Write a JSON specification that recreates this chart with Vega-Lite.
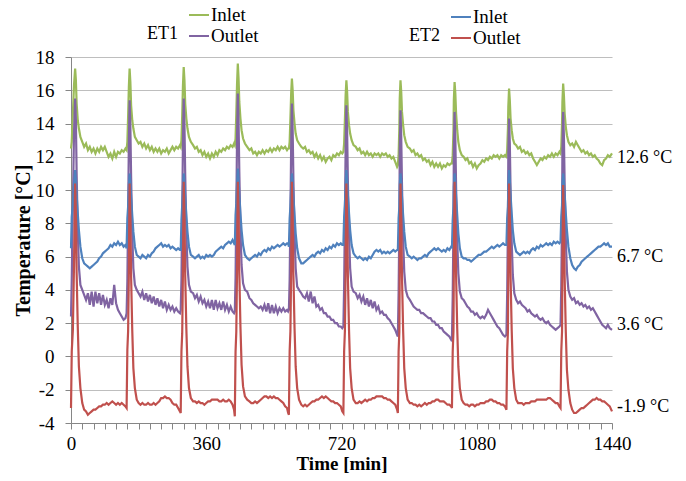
{
"$schema": "https://vega.github.io/schema/vega-lite/v6.json",
"width": 541, "height": 366,
"autosize": "none",
"padding": {"left": 71, "top": 57, "right": 74, "bottom": 58},
"background": "white",
"config": {"view": {"stroke": null}, "font": "Liberation Serif",
 "axis": {"labelFont": "Liberation Serif", "titleFont": "Liberation Serif"},
 "legend": {"labelFont": "Liberation Serif", "titleFont": "Liberation Serif"},
 "text": {"font": "Liberation Serif"}},
"datasets": {
"temps": [
{"t":0,"g":12.5,"p":2.4,"b":6.5,"r":-3.1},{"t":2,"g":12.9,"p":4.6,"b":8.4,"r":0.3},{"t":5,"g":14.6,"p":9.2,"b":9.1,"r":1.6},{"t":8,"g":16.3,"p":13.4,"b":10.4,"r":5.5},{"t":11,"g":17.3,"p":15.5,"b":11.2,"r":10.4},{"t":13,"g":16.6,"p":14.2,"b":10.6,"r":8.6},{"t":15,"g":15.2,"p":11.0,"b":9.7,"r":5.0},{"t":18,"g":14.2,"p":7.6,"b":8.6,"r":1.8},{"t":21,"g":13.7,"p":5.4,"b":7.6,"r":-0.6},{"t":25,"g":13.2,"p":4.3,"b":6.6,"r":-1.9},{"t":30,"g":12.9,"p":4.0,"b":5.9,"r":-2.8},{"t":35,"g":12.6,"p":3.7,"b":5.6,"r":-3.2},{"t":40,"g":12.8,"p":3.4,"b":5.5,"r":-3.3},{"t":45,"g":12.4,"p":3.8,"b":5.4,"r":-3.5},{"t":50,"g":12.6,"p":3.1,"b":5.3,"r":-3.4},{"t":55,"g":12.3,"p":3.9,"b":5.4,"r":-3.3},{"t":60,"g":12.5,"p":3.0,"b":5.5,"r":-3.2},{"t":65,"g":12.2,"p":3.9,"b":5.6,"r":-3.2},{"t":70,"g":12.5,"p":3.2,"b":5.7,"r":-3.1},{"t":75,"g":12.3,"p":3.8,"b":5.9,"r":-3.0},{"t":80,"g":12.6,"p":3.1,"b":6.0,"r":-3.0},{"t":85,"g":12.4,"p":3.7,"b":6.2,"r":-2.9},{"t":90,"g":12.6,"p":3.1,"b":6.3,"r":-2.9},{"t":95,"g":12.3,"p":3.4,"b":6.4,"r":-2.8},{"t":100,"g":12.0,"p":2.9,"b":6.5,"r":-2.9},{"t":105,"g":12.2,"p":3.5,"b":6.7,"r":-2.8},{"t":110,"g":11.9,"p":3.1,"b":6.6,"r":-2.7},{"t":115,"g":12.3,"p":4.3,"b":6.8,"r":-2.8},{"t":120,"g":12.0,"p":3.2,"b":6.7,"r":-2.9},{"t":125,"g":12.3,"p":2.8,"b":6.9,"r":-2.8},{"t":130,"g":12.2,"p":2.6,"b":6.7,"r":-2.9},{"t":135,"g":12.4,"p":2.4,"b":6.8,"r":-2.8},{"t":140,"g":12.3,"p":2.2,"b":6.6,"r":-2.9},{"t":145,"g":12.5,"p":2.3,"b":6.7,"r":-3.0},
{"t":148,"g":12.4,"p":2.6,"b":6.5,"r":-3.1},{"t":150,"g":12.9,"p":4.5,"b":8.3,"r":0.4},{"t":152,"g":14.4,"p":8.5,"b":9.0,"r":1.5},{"t":154,"g":16.2,"p":12.8,"b":10.3,"r":5.0},{"t":156,"g":17.3,"p":15.4,"b":11.0,"r":10.4},{"t":158,"g":16.5,"p":13.8,"b":10.5,"r":8.4},{"t":160,"g":15.1,"p":10.8,"b":9.6,"r":4.8},{"t":163,"g":14.2,"p":7.4,"b":8.5,"r":1.6},{"t":166,"g":13.7,"p":5.3,"b":7.5,"r":-0.7},{"t":170,"g":13.2,"p":4.3,"b":6.6,"r":-1.9},{"t":175,"g":13.0,"p":4.0,"b":6.1,"r":-2.6},{"t":180,"g":12.8,"p":3.8,"b":6.0,"r":-2.8},{"t":185,"g":12.9,"p":3.6,"b":5.9,"r":-2.9},{"t":190,"g":12.6,"p":3.9,"b":6.1,"r":-2.8},{"t":195,"g":12.8,"p":3.4,"b":6.0,"r":-2.9},{"t":200,"g":12.5,"p":3.8,"b":5.9,"r":-2.9},{"t":205,"g":12.7,"p":3.3,"b":6.1,"r":-2.8},{"t":210,"g":12.4,"p":3.7,"b":6.0,"r":-2.9},{"t":215,"g":12.6,"p":3.2,"b":6.2,"r":-2.9},{"t":220,"g":12.3,"p":3.6,"b":6.3,"r":-2.8},{"t":225,"g":12.5,"p":3.1,"b":6.5,"r":-2.9},{"t":230,"g":12.3,"p":3.5,"b":6.6,"r":-2.8},{"t":235,"g":12.5,"p":3.0,"b":6.7,"r":-2.7},{"t":240,"g":12.2,"p":3.4,"b":6.8,"r":-2.5},{"t":245,"g":12.4,"p":2.9,"b":6.6,"r":-2.5},{"t":250,"g":12.3,"p":3.3,"b":6.7,"r":-2.4},{"t":255,"g":12.5,"p":2.8,"b":6.6,"r":-2.5},{"t":260,"g":12.2,"p":3.1,"b":6.7,"r":-2.5},{"t":265,"g":12.4,"p":2.8,"b":6.5,"r":-2.6},{"t":270,"g":12.6,"p":3.0,"b":6.6,"r":-2.8},{"t":275,"g":12.4,"p":2.7,"b":6.5,"r":-2.9},{"t":280,"g":12.6,"p":2.9,"b":6.4,"r":-2.9},{"t":285,"g":12.5,"p":2.7,"b":6.5,"r":-3.1},{"t":290,"g":12.7,"p":2.6,"b":6.4,"r":-3.3},
{"t":292,"g":12.6,"p":2.8,"b":6.4,"r":-3.4},{"t":294,"g":13.0,"p":4.6,"b":8.2,"r":0.3},{"t":296,"g":14.5,"p":8.6,"b":9.1,"r":1.4},{"t":298,"g":16.3,"p":12.9,"b":10.2,"r":5.2},{"t":300,"g":17.4,"p":15.5,"b":11.0,"r":10.5},{"t":302,"g":16.6,"p":13.9,"b":10.5,"r":8.5},{"t":304,"g":15.2,"p":10.9,"b":9.6,"r":4.9},{"t":307,"g":14.3,"p":7.5,"b":8.5,"r":1.7},{"t":310,"g":13.7,"p":5.4,"b":7.5,"r":-0.6},{"t":314,"g":13.2,"p":4.3,"b":6.6,"r":-1.9},{"t":319,"g":12.9,"p":3.9,"b":6.1,"r":-2.5},{"t":325,"g":12.7,"p":3.8,"b":6.0,"r":-2.7},{"t":330,"g":12.5,"p":3.5,"b":5.9,"r":-2.7},{"t":335,"g":12.6,"p":3.7,"b":6.0,"r":-2.8},{"t":340,"g":12.3,"p":3.3,"b":6.1,"r":-2.7},{"t":345,"g":12.4,"p":3.6,"b":5.9,"r":-2.8},{"t":350,"g":12.1,"p":3.2,"b":6.0,"r":-2.8},{"t":355,"g":12.3,"p":3.4,"b":5.9,"r":-2.9},{"t":360,"g":12.0,"p":3.0,"b":6.1,"r":-2.8},{"t":365,"g":12.2,"p":3.3,"b":6.0,"r":-2.7},{"t":370,"g":11.9,"p":2.9,"b":6.1,"r":-2.7},{"t":375,"g":12.2,"p":3.4,"b":6.0,"r":-2.6},{"t":380,"g":12.0,"p":2.8,"b":6.1,"r":-2.6},{"t":385,"g":12.3,"p":3.4,"b":6.3,"r":-2.6},{"t":390,"g":12.1,"p":2.9,"b":6.4,"r":-2.6},{"t":395,"g":12.4,"p":3.2,"b":6.5,"r":-2.7},{"t":400,"g":12.3,"p":2.8,"b":6.6,"r":-2.7},{"t":405,"g":12.5,"p":3.3,"b":6.5,"r":-2.6},{"t":410,"g":12.4,"p":2.8,"b":6.7,"r":-2.7},{"t":415,"g":12.6,"p":3.1,"b":6.8,"r":-2.7},{"t":420,"g":12.5,"p":2.7,"b":6.9,"r":-2.6},{"t":425,"g":12.7,"p":3.0,"b":6.8,"r":-2.7},{"t":430,"g":12.6,"p":2.7,"b":7.0,"r":-2.9},{"t":434,"g":12.8,"p":2.6,"b":6.8,"r":-3.2},
{"t":436,"g":12.7,"p":2.7,"b":6.7,"r":-3.6},{"t":438,"g":13.1,"p":4.7,"b":8.5,"r":0.3},{"t":440,"g":14.6,"p":8.8,"b":9.2,"r":1.5},{"t":442,"g":16.4,"p":13.2,"b":10.4,"r":5.3},{"t":444,"g":17.6,"p":15.8,"b":11.3,"r":10.5},{"t":446,"g":16.7,"p":14.1,"b":10.7,"r":8.6},{"t":448,"g":15.3,"p":11.1,"b":9.7,"r":5.0},{"t":451,"g":14.3,"p":7.6,"b":8.6,"r":1.8},{"t":454,"g":13.6,"p":5.5,"b":7.6,"r":-0.5},{"t":458,"g":13.1,"p":4.4,"b":6.7,"r":-1.8},{"t":463,"g":12.8,"p":4.0,"b":6.1,"r":-2.4},{"t":469,"g":12.6,"p":3.9,"b":5.9,"r":-2.6},{"t":475,"g":12.4,"p":3.5,"b":5.8,"r":-2.7},{"t":480,"g":12.5,"p":3.4,"b":5.9,"r":-2.8},{"t":485,"g":12.2,"p":3.2,"b":6.0,"r":-2.8},{"t":490,"g":12.3,"p":3.1,"b":6.1,"r":-2.7},{"t":495,"g":12.1,"p":3.0,"b":6.0,"r":-2.8},{"t":500,"g":12.3,"p":2.9,"b":6.2,"r":-2.7},{"t":505,"g":12.2,"p":3.0,"b":6.1,"r":-2.6},{"t":510,"g":12.4,"p":2.8,"b":6.3,"r":-2.5},{"t":515,"g":12.2,"p":3.1,"b":6.4,"r":-2.4},{"t":520,"g":12.4,"p":2.7,"b":6.3,"r":-2.4},{"t":525,"g":12.3,"p":3.2,"b":6.5,"r":-2.5},{"t":530,"g":12.5,"p":2.6,"b":6.4,"r":-2.4},{"t":535,"g":12.3,"p":3.1,"b":6.6,"r":-2.5},{"t":540,"g":12.5,"p":2.6,"b":6.5,"r":-2.4},{"t":545,"g":12.4,"p":3.0,"b":6.6,"r":-2.5},{"t":550,"g":12.6,"p":2.6,"b":6.7,"r":-2.5},{"t":555,"g":12.4,"p":2.9,"b":6.6,"r":-2.6},{"t":560,"g":12.6,"p":2.7,"b":6.7,"r":-2.7},{"t":565,"g":12.5,"p":2.9,"b":6.8,"r":-2.8},{"t":570,"g":12.6,"p":2.7,"b":6.7,"r":-3.0},{"t":575,"g":12.4,"p":2.8,"b":6.8,"r":-3.1},{"t":578,"g":12.5,"p":2.7,"b":6.8,"r":-3.4},
{"t":580,"g":12.5,"p":2.8,"b":6.6,"r":-3.5},{"t":582,"g":12.9,"p":4.6,"b":8.3,"r":0.3},{"t":584,"g":14.3,"p":8.4,"b":9.0,"r":1.5},{"t":586,"g":15.8,"p":12.6,"b":10.2,"r":5.2},{"t":588,"g":16.7,"p":15.2,"b":11.0,"r":10.5},{"t":590,"g":16.0,"p":13.6,"b":10.5,"r":8.5},{"t":592,"g":14.8,"p":10.6,"b":9.6,"r":4.9},{"t":595,"g":14.0,"p":7.4,"b":8.5,"r":1.7},{"t":598,"g":13.4,"p":5.3,"b":7.4,"r":-0.6},{"t":602,"g":13.0,"p":4.2,"b":6.5,"r":-1.9},{"t":607,"g":12.8,"p":4.0,"b":5.9,"r":-2.6},{"t":613,"g":12.6,"p":3.8,"b":5.6,"r":-2.9},{"t":618,"g":12.5,"p":3.6,"b":5.6,"r":-3.0},{"t":623,"g":12.6,"p":3.5,"b":5.7,"r":-2.9},{"t":628,"g":12.3,"p":3.8,"b":5.8,"r":-3.0},{"t":633,"g":12.4,"p":3.3,"b":5.9,"r":-2.9},{"t":638,"g":12.2,"p":3.9,"b":6.0,"r":-2.8},{"t":643,"g":12.3,"p":3.2,"b":6.1,"r":-2.7},{"t":648,"g":12.0,"p":3.6,"b":6.0,"r":-2.7},{"t":653,"g":12.2,"p":3.0,"b":6.2,"r":-2.6},{"t":658,"g":11.9,"p":3.1,"b":6.3,"r":-2.6},{"t":663,"g":12.1,"p":2.8,"b":6.2,"r":-2.5},{"t":668,"g":11.8,"p":2.9,"b":6.4,"r":-2.4},{"t":673,"g":12.0,"p":2.6,"b":6.3,"r":-2.5},{"t":678,"g":11.7,"p":2.6,"b":6.5,"r":-2.4},{"t":683,"g":11.9,"p":2.4,"b":6.4,"r":-2.5},{"t":688,"g":12.0,"p":2.4,"b":6.6,"r":-2.6},{"t":693,"g":11.8,"p":2.2,"b":6.5,"r":-2.7},{"t":698,"g":12.1,"p":2.2,"b":6.7,"r":-2.7},{"t":703,"g":12.0,"p":2.0,"b":6.6,"r":-2.8},{"t":708,"g":12.2,"p":2.0,"b":6.8,"r":-2.8},{"t":713,"g":12.1,"p":1.8,"b":6.7,"r":-2.9},{"t":718,"g":12.3,"p":1.8,"b":6.8,"r":-3.0},{"t":722,"g":12.2,"p":1.7,"b":6.7,"r":-3.3},
{"t":725,"g":12.3,"p":1.8,"b":6.7,"r":-3.4},{"t":727,"g":12.8,"p":4.2,"b":8.4,"r":0.3},{"t":729,"g":14.2,"p":8.3,"b":9.1,"r":1.5},{"t":731,"g":15.7,"p":12.5,"b":10.3,"r":5.2},{"t":733,"g":16.6,"p":15.1,"b":11.2,"r":10.4},{"t":735,"g":15.9,"p":13.5,"b":10.6,"r":8.4},{"t":737,"g":14.7,"p":10.5,"b":9.7,"r":4.8},{"t":740,"g":13.9,"p":7.3,"b":8.6,"r":1.6},{"t":743,"g":13.4,"p":5.3,"b":7.6,"r":-0.7},{"t":747,"g":13.0,"p":4.2,"b":6.7,"r":-1.9},{"t":752,"g":12.7,"p":3.9,"b":6.2,"r":-2.6},{"t":758,"g":12.6,"p":3.8,"b":6.0,"r":-2.8},{"t":763,"g":12.4,"p":3.5,"b":5.9,"r":-2.8},{"t":768,"g":12.5,"p":3.7,"b":6.0,"r":-2.7},{"t":773,"g":12.2,"p":3.3,"b":5.9,"r":-2.8},{"t":778,"g":12.3,"p":3.6,"b":5.8,"r":-2.7},{"t":783,"g":12.1,"p":3.1,"b":5.9,"r":-2.6},{"t":788,"g":12.3,"p":3.5,"b":5.8,"r":-2.7},{"t":793,"g":12.1,"p":3.0,"b":6.0,"r":-2.6},{"t":798,"g":12.2,"p":3.4,"b":5.9,"r":-2.6},{"t":803,"g":12.0,"p":2.9,"b":6.1,"r":-2.5},{"t":808,"g":12.2,"p":3.3,"b":6.3,"r":-2.5},{"t":813,"g":12.1,"p":2.8,"b":6.4,"r":-2.4},{"t":818,"g":12.2,"p":3.0,"b":6.3,"r":-2.4},{"t":823,"g":12.0,"p":2.6,"b":6.4,"r":-2.4},{"t":828,"g":12.2,"p":2.7,"b":6.2,"r":-2.4},{"t":833,"g":12.1,"p":2.5,"b":6.3,"r":-2.5},{"t":838,"g":12.2,"p":2.5,"b":6.2,"r":-2.5},{"t":843,"g":12.0,"p":2.3,"b":6.3,"r":-2.6},{"t":848,"g":12.1,"p":2.2,"b":6.2,"r":-2.6},{"t":853,"g":11.9,"p":2.0,"b":6.3,"r":-2.7},{"t":858,"g":12.0,"p":1.8,"b":6.4,"r":-2.8},{"t":863,"g":11.7,"p":1.6,"b":6.3,"r":-2.9},{"t":868,"g":11.4,"p":1.3,"b":6.4,"r":-3.2},
{"t":870,"g":11.5,"p":1.2,"b":6.4,"r":-3.4},{"t":872,"g":12.1,"p":3.8,"b":8.3,"r":0.3},{"t":874,"g":13.8,"p":8.0,"b":9.0,"r":1.5},{"t":875,"g":15.5,"p":12.3,"b":10.3,"r":5.2},{"t":877,"g":16.6,"p":14.8,"b":11.0,"r":10.4},{"t":879,"g":15.9,"p":13.2,"b":10.5,"r":8.4},{"t":881,"g":14.7,"p":10.3,"b":9.6,"r":4.8},{"t":884,"g":13.9,"p":7.1,"b":8.5,"r":1.6},{"t":887,"g":13.3,"p":5.1,"b":7.5,"r":-0.7},{"t":891,"g":12.9,"p":4.0,"b":6.6,"r":-1.9},{"t":896,"g":12.6,"p":3.6,"b":6.1,"r":-2.6},{"t":902,"g":12.5,"p":3.4,"b":6.0,"r":-2.8},{"t":907,"g":12.3,"p":3.2,"b":5.9,"r":-2.8},{"t":912,"g":12.4,"p":3.0,"b":6.0,"r":-2.9},{"t":917,"g":12.1,"p":2.9,"b":5.9,"r":-2.9},{"t":922,"g":12.2,"p":2.8,"b":5.8,"r":-3.0},{"t":927,"g":12.0,"p":2.8,"b":5.9,"r":-2.9},{"t":932,"g":12.1,"p":2.6,"b":5.9,"r":-3.0},{"t":937,"g":11.8,"p":2.6,"b":6.0,"r":-2.9},{"t":942,"g":11.9,"p":2.5,"b":6.1,"r":-2.8},{"t":947,"g":11.7,"p":2.4,"b":6.0,"r":-2.9},{"t":952,"g":11.8,"p":2.3,"b":6.2,"r":-2.8},{"t":957,"g":11.5,"p":2.3,"b":6.3,"r":-2.8},{"t":962,"g":11.7,"p":2.1,"b":6.4,"r":-2.7},{"t":967,"g":11.4,"p":2.1,"b":6.5,"r":-2.7},{"t":972,"g":11.6,"p":1.9,"b":6.4,"r":-2.6},{"t":977,"g":11.4,"p":1.9,"b":6.5,"r":-2.6},{"t":982,"g":11.6,"p":1.7,"b":6.4,"r":-2.7},{"t":987,"g":11.3,"p":1.7,"b":6.3,"r":-2.7},{"t":992,"g":11.5,"p":1.5,"b":6.4,"r":-2.7},{"t":997,"g":11.4,"p":1.4,"b":6.3,"r":-2.8},{"t":1002,"g":11.6,"p":1.3,"b":6.5,"r":-2.9},{"t":1007,"g":11.5,"p":1.2,"b":6.4,"r":-2.9},{"t":1012,"g":11.6,"p":1.0,"b":6.6,"r":-3.0},
{"t":1014,"g":11.6,"p":1.1,"b":6.5,"r":-3.1},{"t":1016,"g":12.1,"p":3.6,"b":8.2,"r":0.3},{"t":1018,"g":13.6,"p":7.8,"b":9.0,"r":1.5},{"t":1019,"g":15.4,"p":12.2,"b":10.2,"r":5.2},{"t":1021,"g":16.5,"p":14.7,"b":11.0,"r":10.5},{"t":1023,"g":15.8,"p":13.1,"b":10.5,"r":8.5},{"t":1025,"g":14.6,"p":10.2,"b":9.6,"r":4.9},{"t":1028,"g":13.6,"p":7.0,"b":8.5,"r":1.7},{"t":1031,"g":12.9,"p":5.0,"b":7.4,"r":-0.6},{"t":1035,"g":12.4,"p":3.9,"b":6.5,"r":-1.9},{"t":1040,"g":12.1,"p":3.5,"b":6.0,"r":-2.6},{"t":1045,"g":12.0,"p":3.4,"b":5.9,"r":-2.8},{"t":1050,"g":11.8,"p":3.2,"b":5.9,"r":-2.9},{"t":1055,"g":11.9,"p":3.0,"b":5.8,"r":-2.9},{"t":1060,"g":11.6,"p":2.9,"b":5.8,"r":-3.0},{"t":1065,"g":11.7,"p":2.7,"b":5.7,"r":-2.9},{"t":1070,"g":11.4,"p":2.7,"b":5.8,"r":-2.9},{"t":1075,"g":11.6,"p":2.5,"b":5.9,"r":-3.0},{"t":1080,"g":11.3,"p":2.6,"b":6.0,"r":-2.9},{"t":1085,"g":11.5,"p":2.4,"b":6.1,"r":-2.9},{"t":1090,"g":11.6,"p":2.3,"b":6.1,"r":-2.8},{"t":1095,"g":11.8,"p":2.4,"b":6.2,"r":-2.8},{"t":1100,"g":11.7,"p":2.3,"b":6.3,"r":-2.8},{"t":1105,"g":11.9,"p":2.5,"b":6.3,"r":-2.7},{"t":1110,"g":11.8,"p":2.8,"b":6.4,"r":-2.7},{"t":1115,"g":12.0,"p":2.6,"b":6.5,"r":-2.6},{"t":1120,"g":11.9,"p":2.4,"b":6.6,"r":-2.6},{"t":1125,"g":12.1,"p":2.2,"b":6.5,"r":-2.7},{"t":1130,"g":12.0,"p":2.0,"b":6.6,"r":-2.7},{"t":1135,"g":12.1,"p":1.8,"b":6.7,"r":-2.8},{"t":1140,"g":11.9,"p":1.7,"b":6.6,"r":-2.8},{"t":1145,"g":12.1,"p":1.5,"b":6.7,"r":-2.9},{"t":1150,"g":12.0,"p":1.3,"b":6.8,"r":-2.9},{"t":1155,"g":12.1,"p":1.2,"b":6.7,"r":-3.0},
{"t":1159,"g":12.0,"p":1.3,"b":6.7,"r":-3.2},{"t":1161,"g":12.4,"p":3.8,"b":8.3,"r":0.3},{"t":1163,"g":13.7,"p":7.9,"b":9.0,"r":1.5},{"t":1164,"g":15.0,"p":12.0,"b":10.3,"r":5.2},{"t":1166,"g":16.1,"p":14.3,"b":11.2,"r":10.4},{"t":1168,"g":15.4,"p":12.8,"b":10.6,"r":8.4},{"t":1170,"g":14.3,"p":10.0,"b":9.7,"r":4.8},{"t":1173,"g":13.6,"p":6.9,"b":8.6,"r":1.6},{"t":1176,"g":13.1,"p":4.9,"b":7.6,"r":-0.7},{"t":1180,"g":12.8,"p":3.8,"b":6.8,"r":-1.9},{"t":1185,"g":12.7,"p":3.4,"b":6.3,"r":-2.6},{"t":1190,"g":12.5,"p":3.2,"b":6.2,"r":-2.8},{"t":1195,"g":12.6,"p":3.3,"b":6.1,"r":-2.8},{"t":1200,"g":12.3,"p":3.1,"b":6.2,"r":-2.8},{"t":1205,"g":12.4,"p":3.0,"b":6.3,"r":-2.9},{"t":1210,"g":12.2,"p":2.9,"b":6.2,"r":-2.8},{"t":1215,"g":12.3,"p":2.7,"b":6.3,"r":-2.8},{"t":1220,"g":12.1,"p":2.8,"b":6.2,"r":-2.8},{"t":1225,"g":12.2,"p":2.6,"b":6.4,"r":-2.7},{"t":1230,"g":11.9,"p":2.5,"b":6.5,"r":-2.7},{"t":1235,"g":11.7,"p":2.4,"b":6.4,"r":-2.7},{"t":1240,"g":11.5,"p":2.5,"b":6.6,"r":-2.6},{"t":1245,"g":11.7,"p":2.3,"b":6.5,"r":-2.6},{"t":1250,"g":11.9,"p":2.2,"b":6.7,"r":-2.6},{"t":1255,"g":11.8,"p":2.3,"b":6.6,"r":-2.6},{"t":1260,"g":12.0,"p":2.1,"b":6.7,"r":-2.6},{"t":1265,"g":11.9,"p":2.0,"b":6.8,"r":-2.6},{"t":1270,"g":12.1,"p":2.1,"b":6.7,"r":-2.5},{"t":1275,"g":12.0,"p":1.9,"b":6.8,"r":-2.5},{"t":1280,"g":12.2,"p":1.8,"b":6.7,"r":-2.6},{"t":1285,"g":12.0,"p":1.7,"b":6.9,"r":-2.7},{"t":1290,"g":12.2,"p":1.6,"b":6.8,"r":-2.8},{"t":1295,"g":12.1,"p":1.7,"b":6.9,"r":-2.8},{"t":1300,"g":12.3,"p":1.8,"b":6.8,"r":-3.0},
{"t":1303,"g":12.2,"p":1.9,"b":6.9,"r":-3.1},{"t":1305,"g":12.6,"p":4.2,"b":8.4,"r":0.3},{"t":1307,"g":14.0,"p":8.2,"b":9.1,"r":1.5},{"t":1308,"g":15.3,"p":12.3,"b":10.3,"r":5.2},{"t":1310,"g":16.4,"p":14.7,"b":11.0,"r":10.3},{"t":1312,"g":15.7,"p":13.2,"b":10.5,"r":8.3},{"t":1314,"g":14.6,"p":10.3,"b":9.7,"r":4.7},{"t":1317,"g":13.8,"p":7.1,"b":8.6,"r":1.5},{"t":1320,"g":13.3,"p":5.1,"b":7.6,"r":-0.8},{"t":1324,"g":12.9,"p":4.0,"b":6.6,"r":-2.0},{"t":1329,"g":12.7,"p":3.6,"b":5.9,"r":-2.8},{"t":1334,"g":12.8,"p":3.4,"b":5.5,"r":-3.2},{"t":1339,"g":12.6,"p":3.5,"b":5.3,"r":-3.4},{"t":1344,"g":12.9,"p":3.2,"b":5.2,"r":-3.4},{"t":1349,"g":12.7,"p":3.3,"b":5.4,"r":-3.3},{"t":1354,"g":12.5,"p":3.1,"b":5.5,"r":-3.2},{"t":1359,"g":12.3,"p":3.2,"b":5.7,"r":-3.1},{"t":1364,"g":12.4,"p":3.0,"b":5.8,"r":-3.1},{"t":1369,"g":12.2,"p":3.1,"b":5.9,"r":-3.0},{"t":1374,"g":12.3,"p":2.9,"b":6.0,"r":-2.9},{"t":1379,"g":12.1,"p":3.0,"b":6.1,"r":-2.8},{"t":1384,"g":12.2,"p":2.8,"b":6.2,"r":-2.7},{"t":1389,"g":12.0,"p":2.9,"b":6.3,"r":-2.6},{"t":1394,"g":12.1,"p":2.7,"b":6.4,"r":-2.6},{"t":1399,"g":11.9,"p":2.5,"b":6.5,"r":-2.5},{"t":1404,"g":11.8,"p":2.3,"b":6.6,"r":-2.6},{"t":1409,"g":11.6,"p":2.1,"b":6.6,"r":-2.6},{"t":1414,"g":11.5,"p":1.9,"b":6.7,"r":-2.7},{"t":1419,"g":11.8,"p":1.8,"b":6.8,"r":-2.7},{"t":1424,"g":11.9,"p":1.7,"b":6.7,"r":-2.8},{"t":1429,"g":12.1,"p":1.9,"b":6.8,"r":-2.9},{"t":1434,"g":12.0,"p":1.7,"b":6.6,"r":-3.0},{"t":1440,"g":12.2,"p":1.6,"b":6.6,"r":-3.3}
],
"ends": [
{"t":1440,"v":11.9,"lab":"12.6 °C"},
{"t":1440,"v":6.0,"lab":"6.7 °C"},
{"t":1440,"v":1.9,"lab":"3.6 °C"},
{"t":1440,"v":-3.05,"lab":"-1.9 °C"}
]
},
"encoding": {
"x": {"field": "t", "type": "quantitative", "scale": {"domain": [0, 1440], "nice": false},
 "axis": {"title": "Time [min]", "values": [0,30,60,90,120,150,180,210,240,270,300,330,360,390,420,450,480,510,540,570,600,630,660,690,720,750,780,810,840,870,900,930,960,990,1020,1050,1080,1110,1140,1170,1200,1230,1260,1290,1320,1350,1380,1410,1440],
  "labelExpr": "datum.value % 360 == 0 ? '' + datum.value : ''", "labelOverlap": false, "labelFlush": false,
  "grid": false, "domainColor": "#868686", "domainWidth": 1, "tickColor": "#868686", "tickSize": 6,
  "labelFont": "Liberation Serif", "labelFontSize": 19, "labelColor": "black", "labelPadding": 5,
  "titleFont": "Liberation Serif", "titleFontSize": 19, "titleFontWeight": "bold", "titleColor": "black", "titlePadding": 1}},
"y": {"field": "v", "type": "quantitative", "scale": {"domain": [-4, 18], "nice": false},
 "axis": {"title": "Temperature [°C]", "values": [-4,-2,0,2,4,6,8,10,12,14,16,18], "labelExpr": "'' + datum.value",
  "grid": true, "gridColor": "#BEBEBE", "gridWidth": 1.2, "domainColor": "#868686", "tickColor": "#868686", "tickSize": 6,
  "labelFont": "Liberation Serif", "labelFontSize": 19, "labelColor": "black", "labelPadding": 11,
  "titleFont": "Liberation Serif", "titleFontSize": 20, "titleFontWeight": "bold", "titleColor": "black", "titlePadding": 2}}
},
"layer": [
{"data": {"name": "temps"}, "transform": [{"fold": ["g", "p"], "as": ["s", "v"]}],
 "mark": {"type": "line", "strokeWidth": 2.2},
 "encoding": {"color": {"field": "s", "type": "nominal", "scale": {"domain": ["g", "p"], "range": ["#9BBB59", "#8064A2"]},
  "legend": {"title": "ET1", "orient": "none", "legendX": 76, "legendY": -53, "titleOrient": "left", "titleAnchor": "middle", "titleBaseline": "top",
   "titleFont": "Liberation Serif", "titleFontSize": 18, "titleFontWeight": "normal", "titleColor": "black", "titlePadding": 10,
   "labelExpr": "datum.label == 'g' ? 'Inlet' : 'Outlet'", "labelFont": "Liberation Serif", "labelFontSize": 19, "labelColor": "black", "labelOffset": 1,
   "symbolType": "stroke", "symbolSize": 400, "symbolStrokeWidth": 2, "rowPadding": 0}}}},
{"data": {"name": "temps"}, "transform": [{"fold": ["b", "r"], "as": ["s", "v"]}],
 "mark": {"type": "line", "strokeWidth": 2.2},
 "encoding": {"color": {"field": "s", "type": "nominal", "scale": {"domain": ["b", "r"], "range": ["#4F81BD", "#C0504D"]},
  "legend": {"title": "ET2", "orient": "none", "legendX": 338, "legendY": -51, "titleOrient": "left", "titleAnchor": "middle", "titleBaseline": "top",
   "titleFont": "Liberation Serif", "titleFontSize": 18, "titleFontWeight": "normal", "titleColor": "black", "titlePadding": 10,
   "labelExpr": "datum.label == 'b' ? 'Inlet' : 'Outlet'", "labelFont": "Liberation Serif", "labelFontSize": 19, "labelColor": "black", "labelOffset": 1,
   "symbolType": "stroke", "symbolSize": 400, "symbolStrokeWidth": 2, "rowPadding": 0}}}},
{"data": {"name": "ends"},
 "mark": {"type": "text", "align": "left", "baseline": "middle", "dx": 5, "font": "Liberation Serif", "fontSize": 18, "color": "black"},
 "encoding": {"text": {"field": "lab"}}}
],
"resolve": {"scale": {"color": "independent"}}
}
